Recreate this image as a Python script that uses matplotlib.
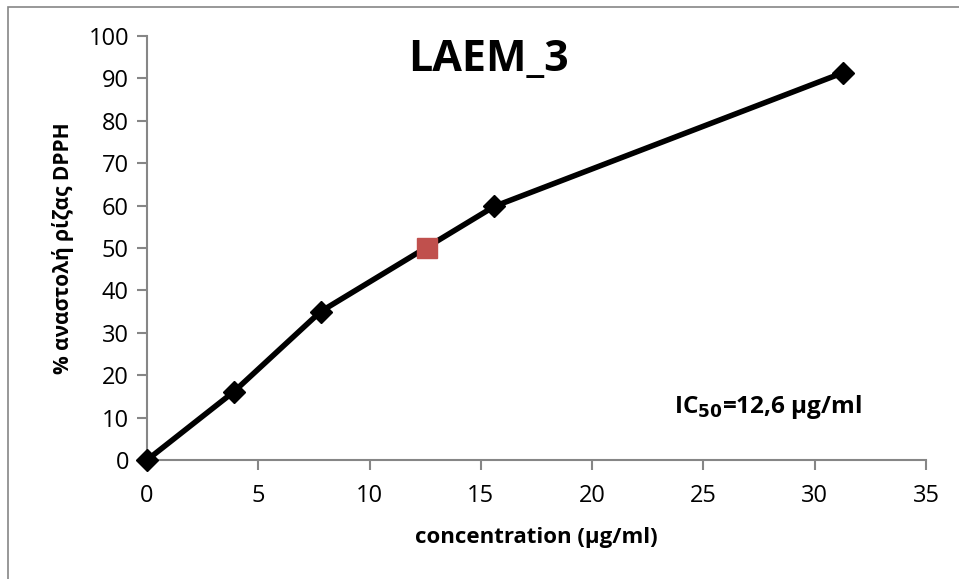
import matplotlib.pyplot as plt
from matplotlib.patches import Rectangle

plt.rcParams['font.family'] = ['Open Sans', 'DejaVu Sans']

# Measured points
conc = [0, 3.9, 7.8, 15.6, 31.25]
inhibition = [0, 16.1, 35, 59.8, 91.3]

# IC50 point
ic50_x = [12.6]
ic50_y = [50]

x_ticks = [0, 5, 10, 15, 20, 25, 30, 35]
y_ticks = [0, 10, 20, 30, 40, 50, 60, 70, 80, 90, 100]

grey = '#868686'

fig = plt.figure(figsize=(9.59, 5.79), dpi=100)
# outer chart border (left and top visible)
fig.patches.append(Rectangle((8 / 959, -0.1), 1.2, 1 - 7 / 579 + 0.1,
                             transform=fig.transFigure, fill=False,
                             edgecolor=grey, linewidth=1.2))

ax = fig.add_axes([147 / 959, 1 - 460 / 579, (926 - 147) / 959, (460 - 36) / 579])

ax.plot(conc, inhibition, color='black', linewidth=4, marker='D',
        markersize=11.5, markerfacecolor='black', markeredgecolor='black',
        zorder=3, clip_on=False)
ax.plot(ic50_x, ic50_y, linestyle='none', marker='s', markersize=14,
        markerfacecolor='#C0504D', markeredgecolor='#C0504D', zorder=4)

ax.set_xlim(0, 35)
ax.set_ylim(0, 100)
ax.set_xticks(x_ticks)
ax.set_yticks(y_ticks)

for side in ['top', 'right']:
    ax.spines[side].set_visible(False)
for side in ['left', 'bottom']:
    ax.spines[side].set_color(grey)
    ax.spines[side].set_linewidth(1.5)

ax.tick_params(axis='both', direction='out', length=7, width=1.5, color=grey,
               labelsize=17, labelcolor='black')
ax.tick_params(axis='x', pad=10)
ax.tick_params(axis='y', pad=6)

ax.set_xlabel('concentration (μg/ml)', fontsize=16, fontweight='bold', labelpad=14)
ax.set_ylabel('% αναστολή ρίζας DPPH', fontsize=15, fontweight='bold', labelpad=10)

ax.text(0.438, 0.945, 'LAEM_3', transform=ax.transAxes, ha='center', va='center',
        fontsize=31, fontweight='bold')
ax.text(27.9, 12.5, r'IC$_{\mathbf{50}}$=12,6 μg/ml', ha='center', va='center',
        fontsize=17.5, fontweight='bold')

fig.savefig('out.png', dpi=100)
